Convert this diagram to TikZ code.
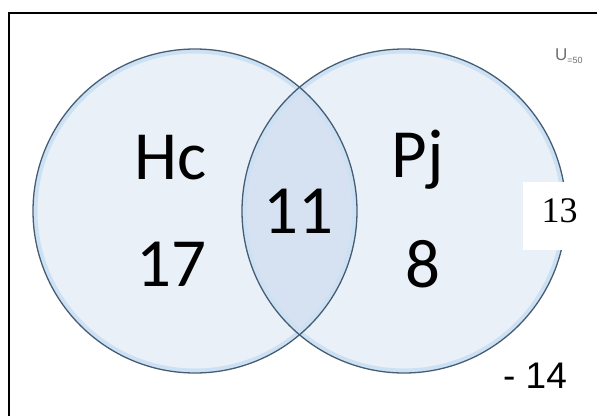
\documentclass[tikz,border=0pt]{standalone}
\usepackage{fontspec}
\setmainfont{Carlito}
\newfontfamily\timesf{Liberation Serif}
\newfontfamily\arialf{Liberation Sans}
\begin{document}
\begin{tikzpicture}[x=1pt,y=-1pt,
  big/.style={font=\fontsize{69}{69}\selectfont, text=black, inner sep=0pt},
  circfill/.style={fill={rgb,255:red,234;green,240;blue,248}},
  rim/.style={draw={rgb,255:red,205;green,225;blue,244}, line width=4pt},
  edge/.style={draw={rgb,255:red,70;green,92;blue,115}, line width=1.3pt}]
\useasboundingbox (0,0) rectangle (597,416);
\def\r{162}
\coordinate (cl) at (195,211);
\coordinate (cr) at (404,211);
% fills
\path[circfill] (cl) circle (\r);
\path[circfill] (cr) circle (\r);
\begin{scope}
  \clip (cl) circle (\r);
  \path[fill={rgb,255:red,214;green,226;blue,241}] (cr) circle (\r);
\end{scope}
% rims
\path[rim] (cl) circle (\r-2.5);
\path[rim] (cr) circle (\r-2.5);
\path[edge] (cl) circle (\r);
\path[edge] (cr) circle (\r);
% frame
\draw[line width=2pt] (9,416) -- (9,13) -- (597,13);
% texts
\node[big] (hc) at (171,158) {Hc};
\node[big] (n17) at (171,264) {17};
\node[big] (n11) at (298,211) {11};
\node[big] (pj) at (418,160) {Pj};
\node[big] (n8) at (423,264) {8};
% white box with 13
\path[fill=white] (523,182) rectangle (597,250);
\node[font=\timesf\fontsize{36}{36}\selectfont, inner sep=0pt] (n13) at (559.5,211) {13};
\node[font=\arialf\fontsize{37}{37}\selectfont, inner sep=0pt] (n14) at (535,376) {- 14};
\node[font=\arialf\fontsize{17}{17}\selectfont, text={rgb,255:red,110;green,110;blue,110}, inner sep=0pt, anchor=west] (u) at (555,56) {U\raisebox{-3pt}{\fontsize{9}{9}\selectfont =50}};
\end{tikzpicture}
\end{document}
